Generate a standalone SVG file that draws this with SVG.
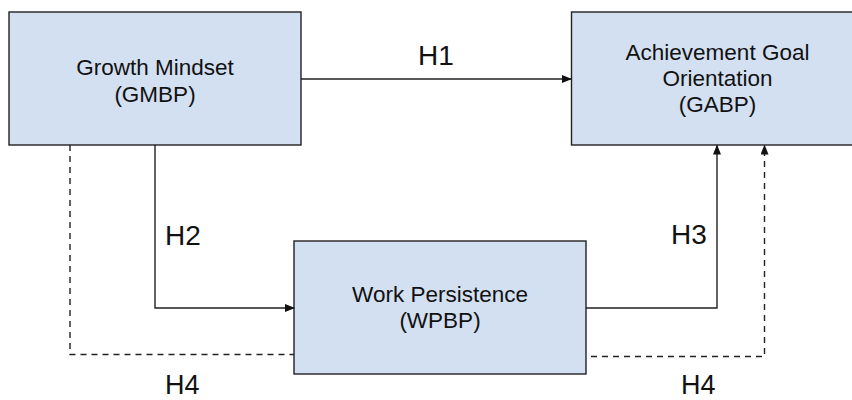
<svg xmlns="http://www.w3.org/2000/svg" width="852" height="400" viewBox="0 0 852 400">
<defs>
<style>
.box{fill:#d3e0f1;stroke:#222;stroke-width:1.4}
.t{font-family:"Liberation Sans",Arial,sans-serif;font-size:22.5px;fill:#111;text-anchor:middle}
.lbl{font-family:"Liberation Sans",Arial,sans-serif;font-size:28px;fill:#111}
.lb4{font-size:27px}
.c{fill:none;stroke:#222;stroke-width:1.4}
.d{stroke-dasharray:6,5}
</style>
<marker id="ah" markerWidth="10" markerHeight="8" refX="9" refY="4" orient="auto" markerUnits="userSpaceOnUse">
<path d="M0,0 L10,4 L0,8 Z" fill="#111"/>
</marker>
</defs>
<rect width="852" height="400" fill="#fff"/>
<g id="gmbp">
<rect class="box" x="9" y="12" width="292" height="133"/>
<text class="t" x="155" y="75">Growth Mindset</text>
<text class="t" x="155" y="102">(GMBP)</text>
</g>
<g id="gabp">
<rect class="box" x="571.5" y="12" width="292" height="133"/>
<text class="t" x="717.5" y="60">Achievement Goal</text>
<text class="t" x="717.5" y="86">Orientation</text>
<text class="t" x="717.5" y="112">(GABP)</text>
</g>
<g id="wpbp">
<rect class="box" x="294" y="241" width="292" height="133"/>
<text class="t" x="440" y="302">Work Persistence</text>
<text class="t" x="440" y="328">(WPBP)</text>
</g>
<g id="connectors">
<path class="c" d="M301,79 H571" marker-end="url(#ah)"/>
<path class="c" d="M155,145 V308 H294" marker-end="url(#ah)"/>
<path class="c" d="M586,308 H717 V145.5" marker-end="url(#ah)"/>
<path class="c d" d="M70,145 V354.5 H294"/>
<path class="c d" d="M591,356.5 H764.5 V145.5" marker-end="url(#ah)"/>
<text class="lbl" x="418" y="65">H1</text>
<text class="lbl" x="165" y="245">H2</text>
<text class="lbl" x="671" y="244">H3</text>
<text class="lbl lb4" x="165" y="394">H4</text>
<text class="lbl lb4" x="681" y="394">H4</text>
</g>
</svg>
